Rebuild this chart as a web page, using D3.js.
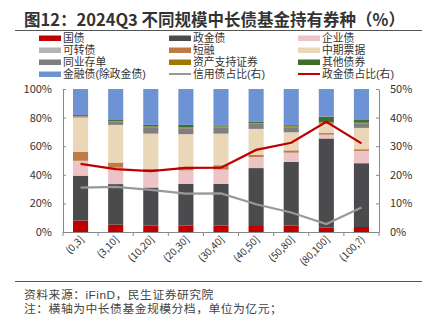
<!DOCTYPE html>
<html><head><meta charset="utf-8">
<script src="https://cdnjs.cloudflare.com/ajax/libs/d3/7.8.5/d3.min.js"></script>
<style>body{margin:0;background:#fff;}svg{display:block;font-family:"Noto Sans CJK SC","Noto Sans",sans-serif;}</style>
</head><body><svg id="c" width="430" height="330"></svg>
<script>
const categories = ["(0,3]","(3,10]","(10,20]","(20,30]","(30,40]","(40,50]","(50,80]","(80,100]","(100,?)"];
const seriesNames = ["国债","政金债","企业债","可转债","短融","中期票据","同业存单","资产支持证券","其他债券","金融债(除政金债)"];
const seriesColors = ["#C00000","#4B4B4D","#ECC4C6","#B4B4B4","#C07A48","#E9D7B7","#7F7F7F","#A07800","#3F6E2A","#6E93D4"];
const guozhai   = [8.0, 5.1, 4.4, 4.6, 4.6, 4.2, 4.4, 3.2, 3.5];
const zhengjin  = [31.4, 28.4, 26.7, 29.1, 29.1, 40.5, 44.6, 62.2, 44.6];
const qiye      = [10.2, 11.2, 10.8, 9.1, 9.7, 7.5, 6.2, 2.5, 8.4];
const kezhuan   = [0.2, 0.3, 0.3, 0.3, 0.3, 0.2, 0.3, 0.2, 0.2];
const duanrong  = [6.4, 3.6, 2.0, 2.7, 3.0, 1.7, 1.6, 1.1, 1.2];
const zhongpiao = [23.9, 26.3, 24.6, 22.6, 22.1, 18.0, 12.6, 6.5, 14.9];
const tongye    = [0.8, 2.3, 4.5, 4.2, 4.4, 3.7, 3.6, 0.8, 3.2];
const abs       = [0.3, 0.3, 0.5, 0.6, 0.5, 0.4, 0.6, 0.3, 0.4];
const qita      = [0.6, 0.8, 1.1, 1.7, 0.9, 1.1, 0.8, 3.9, 1.9];
const jinrong   = [18.2, 21.7, 25.1, 25.1, 25.4, 22.7, 25.3, 19.3, 21.7];
const creditShare = [15.5, 15.8, 14.7, 13.4, 13.5, 9.7, 6.8, 2.8, 8.6];
const zhengjinShare = [23.8, 22.0, 21.3, 22.4, 22.5, 28.7, 31.2, 38.5, 31.0];
const leftTicks = [0, 20, 40, 60, 80, 100];
const rightTicks = [0, 10, 20, 30, 40, 50];
const lineNames = ["信用债占比(右)","政金债占比(右)"];
const lineColors = ["#999999","#C00000"];

const seriesValues = [guozhai, zhengjin, qiye, kezhuan, duanrong, zhongpiao, tongye, abs, qita, jinrong];
const rows = categories.map((c,i)=>{const r={cat:c}; seriesNames.forEach((s,j)=>r[s]=seriesValues[j][i]); return r;});

const svg = d3.select("#c");
const L=63, R=379, T=89, B=232;
const x = d3.scaleBand().domain(categories).range([L,R]).paddingInner(0.57).paddingOuter(0.285);
const yL = d3.scaleLinear().domain([0,100]).range([B,T]);
const yR = d3.scaleLinear().domain([0,50]).range([B,T]);
const compactFont = "\"Liberation Sans\",\"Noto Sans CJK SC\",sans-serif";

// title
svg.append("text").attr("x",24).attr("y",26).attr("font-size",16.5).attr("font-weight","bold").attr("fill","#333")
  .text("图12：2024Q3 不同规模中长债基金持有券种（%）");
svg.append("line").attr("x1",15).attr("x2",422).attr("y1",30.5).attr("y2",30.5).attr("stroke","#555").attr("stroke-width",1.2);

// legend
const legItems = seriesNames.map((n,i)=>({name:n,color:seriesColors[i],type:"rect"}))
  .concat(lineNames.map((n,i)=>({name:n,color:lineColors[i],type:"line"})));
const colX=[39,169,298], rowY=[38,50,62,74];
legItems.forEach((d,i)=>{
  const cx=colX[i%3], cy=rowY[Math.floor(i/3)];
  if(d.type==="rect") svg.append("rect").attr("x",cx).attr("y",cy-2.5).attr("width",22).attr("height",5.5).attr("fill",d.color);
  else svg.append("line").attr("x1",cx).attr("x2",cx+22).attr("y1",cy).attr("y2",cy).attr("stroke",d.color).attr("stroke-width",2);
  svg.append("text").attr("x",cx+24).attr("y",cy+4).attr("font-size",10.8)
    .attr("font-family",compactFont).attr("fill","#333").text(d.name);
});

// bars
const stack = d3.stack().keys(seriesNames)(rows);
svg.append("g").selectAll("g").data(stack).join("g").attr("fill",(d,i)=>seriesColors[i])
  .selectAll("rect").data(d=>d).join("rect")
  .attr("x",d=>x(d.data.cat)).attr("width",x.bandwidth())
  .attr("y",d=>yL(d[1])).attr("height",d=>Math.max(0,yL(d[0])-yL(d[1])));

// axes
const axL = svg.append("g").attr("transform",`translate(${L},0)`).call(d3.axisLeft(yL).tickValues(leftTicks).tickFormat(d=>d+"%").tickSizeInner(-3).tickSizeOuter(0).tickPadding(11));
const axR = svg.append("g").attr("transform",`translate(${R},0)`).call(d3.axisRight(yR).tickValues(rightTicks).tickFormat(d=>d+"%").tickSizeInner(-3).tickSizeOuter(0).tickPadding(11));
const axB = svg.append("g").attr("transform",`translate(0,${B})`).call(d3.axisBottom(x).tickSize(0).tickSizeOuter(0).tickPadding(0));
[axL,axR,axB].forEach(a=>{a.select(".domain").attr("stroke","#888");a.selectAll(".tick line").attr("stroke","#888");
  a.selectAll("text").attr("font-size",11).attr("fill","#333").attr("font-family","\"Noto Sans CJK SC\",\"Noto Sans\",sans-serif");});
// category boundary ticks
const bounds = categories.map(c=>x(c)-x.step()*x.paddingInner()/2).concat([R]);
bounds.forEach(bx=>svg.append("line").attr("x1",bx).attr("x2",bx).attr("y1",B).attr("y2",B+4).attr("stroke","#888"));
axB.selectAll(".tick text").attr("font-size",10).attr("text-anchor","end").attr("dy","0")
  .attr("transform","translate(4,8) rotate(-45)");

// lines
const cx = c=>x(c)+x.bandwidth()/2;
const lineGen = d3.line().x(d=>cx(d.c)).y(d=>yR(d.v));
[creditShare, zhengjinShare].forEach((arr,k)=>{
  svg.append("path").datum(categories.map((c,i)=>({c,v:arr[i]})))
    .attr("d",lineGen).attr("fill","none").attr("stroke",lineColors[k]).attr("stroke-width",2.2);
});

// footer
svg.append("line").attr("x1",15).attr("x2",422).attr("y1",281.5).attr("y2",281.5).attr("stroke","#555").attr("stroke-width",1.2);
svg.append("text").attr("x",24).attr("y",299).attr("font-size",11.8).attr("letter-spacing",0.5).attr("font-family",compactFont).attr("fill","#444").text("资料来源：iFinD，民生证券研究院");
svg.append("text").attr("x",24).attr("y",312.5).attr("font-size",11.8).attr("letter-spacing",0.5).attr("font-family",compactFont).attr("fill","#444").text("注：横轴为中长债基金规模分档，单位为亿元；");
</script></body></html>
